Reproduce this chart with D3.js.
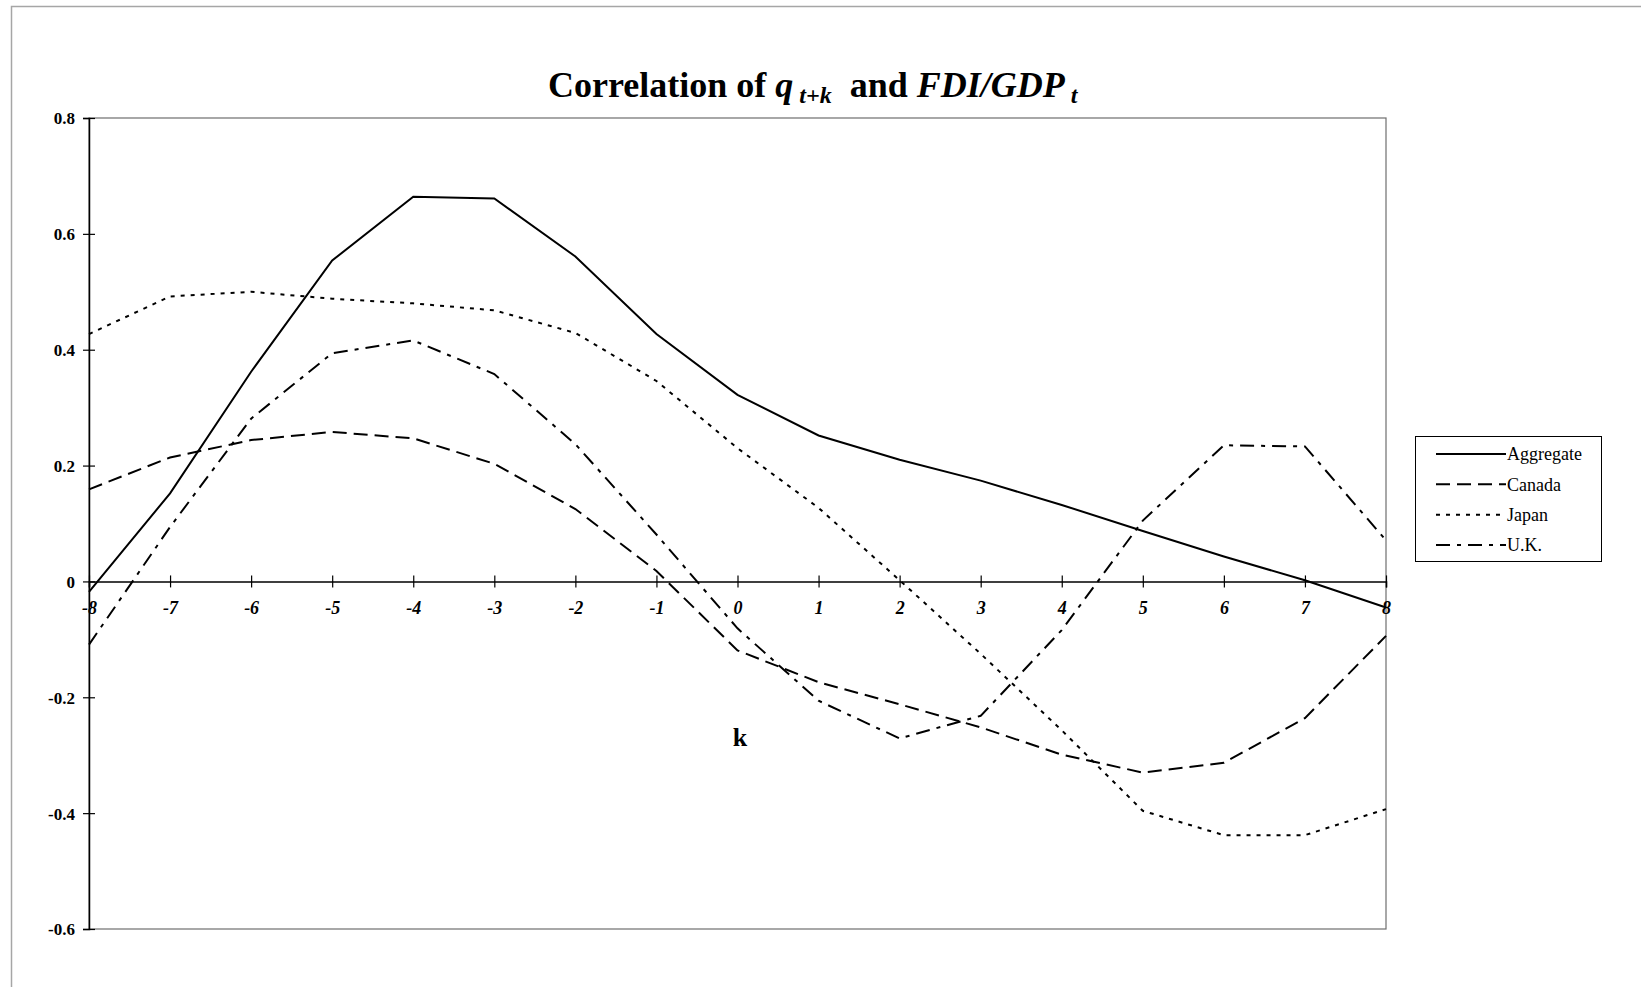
<!DOCTYPE html>
<html>
<head>
<meta charset="utf-8">
<script src="https://cdn.jsdelivr.net/npm/d3@7"></script>
<style>
  body { margin: 0; background: #fff; }
  svg { display: block; }
  text { font-family: "Liberation Serif", "Times New Roman", serif; fill: #000; }
</style>
</head>
<body>
<div id="chart"></div>
<script>
// lags k = -8 .. 8
const lags = [-8, -7, -6, -5, -4, -3, -2, -1, 0, 1, 2, 3, 4, 5, 6, 7, 8];

// correlations
const aggregate = [-0.018, 0.152, 0.362, 0.554, 0.664, 0.661, 0.561, 0.427, 0.322, 0.252, 0.210, 0.174, 0.132, 0.087, 0.043, 0.002, -0.045];
const canada = [0.159, 0.214, 0.244, 0.258, 0.247, 0.203, 0.125, 0.018, -0.119, -0.174, -0.212, -0.252, -0.299, -0.330, -0.313, -0.236, -0.094];
const japan = [0.427, 0.492, 0.500, 0.488, 0.480, 0.468, 0.429, 0.346, 0.230, 0.127, 0.002, -0.125, -0.257, -0.396, -0.438, -0.438, -0.393];
const uk = [-0.109, 0.094, 0.281, 0.394, 0.416, 0.358, 0.237, 0.081, -0.081, -0.206, -0.271, -0.232, -0.084, 0.105, 0.235, 0.233, 0.071];

const seriesNames = ["Aggregate", "Canada", "Japan", "U.K."];
const yTicks = [-0.6, -0.4, -0.2, 0, 0.2, 0.4, 0.6, 0.8];
const yTickLabels = ["-0.6", "-0.4", "-0.2", "0", "0.2", "0.4", "0.6", "0.8"];

const width = 1641;
const height = 987;
const plot = { left: 89, right: 1386, top: 118, bottom: 929 };

// dash patterns like the old spreadsheet styles
const dashes = { "Aggregate": null, "Canada": "14,7", "Japan": "4,6", "U.K.": "14,7,4,7" };

const series = [
  { name: "Aggregate", values: aggregate },
  { name: "Canada", values: canada },
  { name: "Japan", values: japan },
  { name: "U.K.", values: uk }
];

const svg = d3.select("#chart").append("svg").attr("width", width).attr("height", height);

// outer chart frame (only top and left show in the window)
svg.append("rect")
  .attr("x", 11.5).attr("y", 6.5)
  .attr("width", 1700).attr("height", 1100)
  .attr("fill", "none").attr("stroke", "#a6a6a6").attr("stroke-width", 1.5);

const x = d3.scaleLinear().domain([-8, 8]).range([plot.left, plot.right]);
const y = d3.scaleLinear().domain([-0.6, 0.8]).range([plot.bottom, plot.top]);

// plot area border
svg.append("rect")
  .attr("x", plot.left).attr("y", plot.top)
  .attr("width", plot.right - plot.left).attr("height", plot.bottom - plot.top)
  .attr("fill", "none").attr("stroke", "#6e6e6e").attr("stroke-width", 1.2);

// y axis
svg.append("g")
  .attr("transform", `translate(${plot.left},0)`)
  .call(d3.axisLeft(y).tickValues(yTicks).tickSize(6).tickFormat((d, i) => yTickLabels[i]))
  .call((g) => {
    g.select(".domain").attr("stroke", "#000").attr("stroke-width", 1.5);
    g.selectAll(".tick line").attr("x1", 6).attr("x2", -6).attr("stroke", "#000").attr("stroke-width", 1.2);
    g.selectAll(".tick text")
      .attr("x", -14).attr("dy", "0.35em")
      .style("font-size", "17px").style("font-weight", "bold")
      .style("font-family", "'Liberation Serif', serif");
  });

// x axis through zero
svg.append("g")
  .attr("transform", `translate(0,${y(0)})`)
  .call(d3.axisBottom(x).tickValues(lags).tickSize(6).tickFormat((d) => String(d)))
  .call((g) => {
    g.select(".domain").attr("stroke", "#000").attr("stroke-width", 1.5);
    g.selectAll(".tick line").attr("y1", -6).attr("y2", 6).attr("stroke", "#000").attr("stroke-width", 1.2);
    g.selectAll(".tick text")
      .attr("y", 33).attr("dy", 0)
      .style("font-size", "18px").style("font-weight", "bold").style("font-style", "italic")
      .style("font-family", "'Liberation Serif', serif");
  });

// lines
const line = d3.line()
  .x((d, i) => x(lags[i]))
  .y((d) => y(d));

svg.append("g")
  .selectAll("path")
  .data(series)
  .join("path")
  .attr("d", (d) => line(d.values))
  .attr("fill", "none")
  .attr("stroke", "#000")
  .attr("stroke-width", 2)
  .attr("stroke-dasharray", (d) => dashes[d.name]);

// title
const title = svg.append("text")
  .attr("x", 548).attr("y", 97)
  .attr("text-anchor", "start")
  .style("font-size", "36px").style("font-weight", "bold");
title.append("tspan").text("Correlation of ");
title.append("tspan").style("font-style", "italic").text("q");
title.append("tspan").style("font-style", "italic").style("font-size", "24px").attr("dy", 6).text("\u00a0t+k");
title.append("tspan").attr("dy", -6).text("\u00a0\u00a0and ");
title.append("tspan").style("font-style", "italic").text("FDI/GDP");
title.append("tspan").style("font-style", "italic").style("font-size", "24px").attr("dy", 6).text("\u00a0t");

// axis label k
svg.append("text")
  .attr("x", 740).attr("y", 746)
  .attr("text-anchor", "middle")
  .style("font-size", "26px").style("font-weight", "bold")
  .text("k");

// legend
const legend = svg.append("g");
legend.append("rect")
  .attr("x", 1415.5).attr("y", 436.5)
  .attr("width", 186).attr("height", 125)
  .attr("fill", "#fff").attr("stroke", "#000").attr("stroke-width", 1);

const rowY = d3.scalePoint().domain(seriesNames).range([454, 545]);

const rows = legend.selectAll("g.row")
  .data(seriesNames)
  .join("g")
  .attr("class", "row")
  .attr("transform", (d) => `translate(0,${rowY(d)})`);

rows.append("line")
  .attr("x1", 1436).attr("x2", 1506)
  .attr("stroke", "#000").attr("stroke-width", 2)
  .attr("stroke-dasharray", (d) => dashes[d]);

rows.append("text")
  .attr("x", 1507).attr("dy", "0.35em")
  .style("font-size", "18px")
  .text((d) => d);
</script>
</body>
</html>
